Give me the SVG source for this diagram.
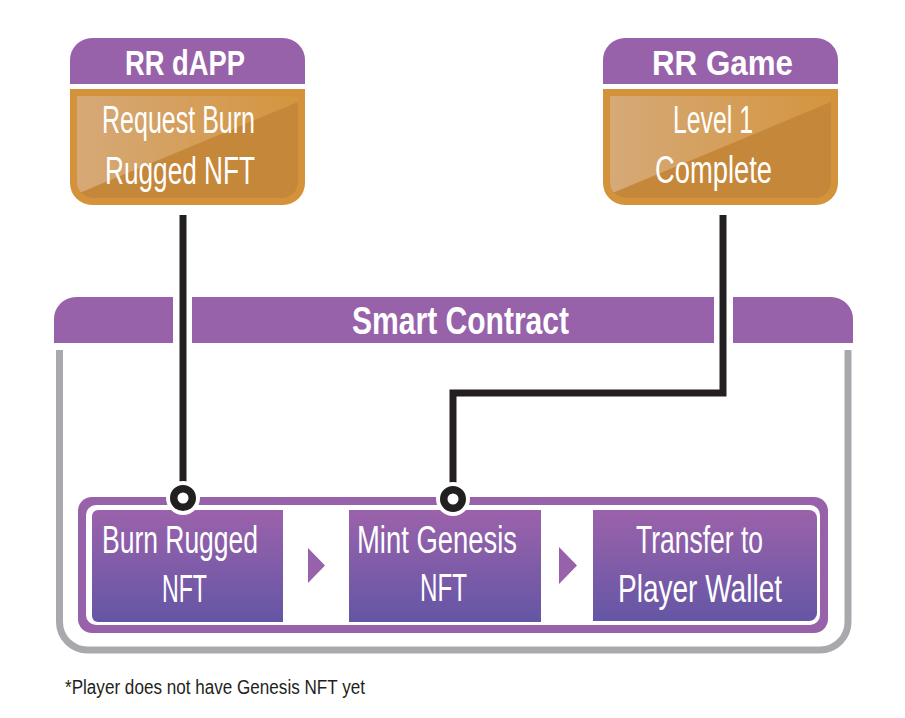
<svg xmlns="http://www.w3.org/2000/svg" width="905" height="718" viewBox="0 0 905 718">
  <defs>
    <linearGradient id="boxGrad" x1="0" y1="0" x2="0" y2="1">
      <stop offset="0" stop-color="#9C62AB"/>
      <stop offset="1" stop-color="#6456A5"/>
    </linearGradient>
    <linearGradient id="lightGrad" x1="0" y1="0" x2="1" y2="0">
      <stop offset="0" stop-color="#D6A978"/>
      <stop offset="1" stop-color="#D4953F"/>
    </linearGradient>
    <clipPath id="clipDapp">
      <path d="M77,96 H298 V182 A16,16 0 0 1 282,198 H93 A16,16 0 0 1 77,182 Z"/>
    </clipPath>
    <clipPath id="clipGame">
      <path d="M610,96 H831 V182 A16,16 0 0 1 815,198 H626 A16,16 0 0 1 610,182 Z"/>
    </clipPath>
  </defs>
  <style>
    .hdr { fill: #9862AA; }
    .orange { fill: #D4923A; }
    .dark { fill: #C5873A; }
    .title { font-family: "Liberation Sans", Arial, sans-serif; font-weight: bold; fill: #FFFFFF; }
    .body { font-family: "Liberation Sans", Arial, sans-serif; fill: #FFFFFF; font-size: 39px; }
    .box { fill: url(#boxGrad); }
    .arrow { fill: #9862AA; }
    .wire { fill: none; stroke: #231F20; stroke-width: 7; stroke-linejoin: miter; }
    .ring { fill: #FFFFFF; stroke: #231F20; stroke-width: 7.5; }
    .halo { fill: #FFFFFF; }
    .note { font-family: "Liberation Sans", Arial, sans-serif; fill: #231F20; font-size: 20px; }
  </style>

  <rect width="905" height="718" fill="#FFFFFF"/>

  <!-- RR dAPP node -->
  <g id="node-dapp">
    <path class="hdr" d="M70,84 V60 A22,22 0 0 1 92,38 H283 A22,22 0 0 1 305,60 V84 Z"/>
    <path class="orange" d="M70,89 H305 V183 A22,22 0 0 1 283,205 H92 A22,22 0 0 1 70,183 Z"/>
    <g clip-path="url(#clipDapp)">
      <rect x="77" y="96" width="221" height="102" fill="url(#lightGrad)"/>
      <polygon class="dark" points="77,194 298,102 298,198 77,198"/>
    </g>
    <text class="title" x="125" y="75" font-size="35" textLength="120" lengthAdjust="spacingAndGlyphs">RR dAPP</text>
    <text class="body" x="102" y="133" textLength="153" lengthAdjust="spacingAndGlyphs">Request Burn</text>
    <text class="body" x="105" y="184" textLength="150" lengthAdjust="spacingAndGlyphs">Rugged NFT</text>
  </g>

  <!-- RR Game node -->
  <g id="node-game">
    <path class="hdr" d="M603,84 V60 A22,22 0 0 1 625,38 H816 A22,22 0 0 1 838,60 V84 Z"/>
    <path class="orange" d="M603,89 H838 V183 A22,22 0 0 1 816,205 H625 A22,22 0 0 1 603,183 Z"/>
    <g clip-path="url(#clipGame)">
      <rect x="610" y="96" width="221" height="102" fill="url(#lightGrad)"/>
      <polygon class="dark" points="610,194 831,102 831,198 610,198"/>
    </g>
    <text class="title" x="652" y="75" font-size="35" textLength="141" lengthAdjust="spacingAndGlyphs">RR Game</text>
    <text class="body" x="673" y="133" textLength="80" lengthAdjust="spacingAndGlyphs">Level 1</text>
    <text class="body" x="655" y="183" textLength="117" lengthAdjust="spacingAndGlyphs">Complete</text>
  </g>

  <!-- Smart Contract container -->
  <g id="node-contract">
    <path d="M59.5,350 V622 A28,28 0 0 0 87.5,650 H820 A28,28 0 0 0 848,622 V350" fill="none" stroke="#A7A9AC" stroke-width="7"/>
    <path class="hdr" d="M54,343 V319 A22,22 0 0 1 76,297 H831 A22,22 0 0 1 853,319 V343 Z"/>
    <rect x="173" y="294" width="19" height="52" fill="#FFFFFF"/>
    <rect x="714" y="294" width="19" height="52" fill="#FFFFFF"/>
    <text class="title" x="352" y="334" font-size="38" textLength="217" lengthAdjust="spacingAndGlyphs">Smart Contract</text>
    <rect x="78" y="497" width="750" height="136" rx="14" fill="#9862AA"/>
    <rect x="86" y="505" width="734" height="120" rx="10" fill="#FFFFFF"/>
  </g>

  <!-- Step nodes -->
  <g id="node-burn">
    <path class="box" d="M98,510 H283 V622 H98 A6,6 0 0 1 92,616 V516 A6,6 0 0 1 98,510 Z"/>
    <text class="body" x="102" y="553" textLength="156" lengthAdjust="spacingAndGlyphs">Burn Rugged</text>
    <text class="body" x="162" y="602" textLength="45" lengthAdjust="spacingAndGlyphs">NFT</text>
  </g>
  <g id="node-mint">
    <rect class="box" x="349" y="510" width="192" height="112"/>
    <text class="body" x="357" y="553" textLength="160" lengthAdjust="spacingAndGlyphs">Mint Genesis</text>
    <text class="body" x="420" y="601" textLength="47" lengthAdjust="spacingAndGlyphs">NFT</text>
  </g>
  <g id="node-transfer">
    <path class="box" d="M593,510 H809 A8,8 0 0 1 817,518 V613 A8,8 0 0 1 809,621 H593 Z"/>
    <text class="body" x="636" y="553" textLength="127" lengthAdjust="spacingAndGlyphs">Transfer to</text>
    <text class="body" x="618" y="602" textLength="164" lengthAdjust="spacingAndGlyphs">Player Wallet</text>
  </g>

  <!-- Connectors -->
  <g id="connectors">
    <polygon class="arrow" points="308,548 325,565.5 308,583"/>
    <polygon class="arrow" points="559,547 577,565.5 559,584"/>
    <path class="wire" d="M183,215 V492"/>
    <path class="wire" d="M723,215 V393 H453 V492"/>
    <circle class="halo" cx="183" cy="498" r="17"/>
    <circle class="ring" cx="183" cy="498" r="9.25"/>
    <circle class="halo" cx="453" cy="499" r="17"/>
    <circle class="ring" cx="453" cy="499" r="9.25"/>
  </g>

  <text class="note" x="65" y="694" textLength="300" lengthAdjust="spacingAndGlyphs">*Player does not have Genesis NFT yet</text>
</svg>
